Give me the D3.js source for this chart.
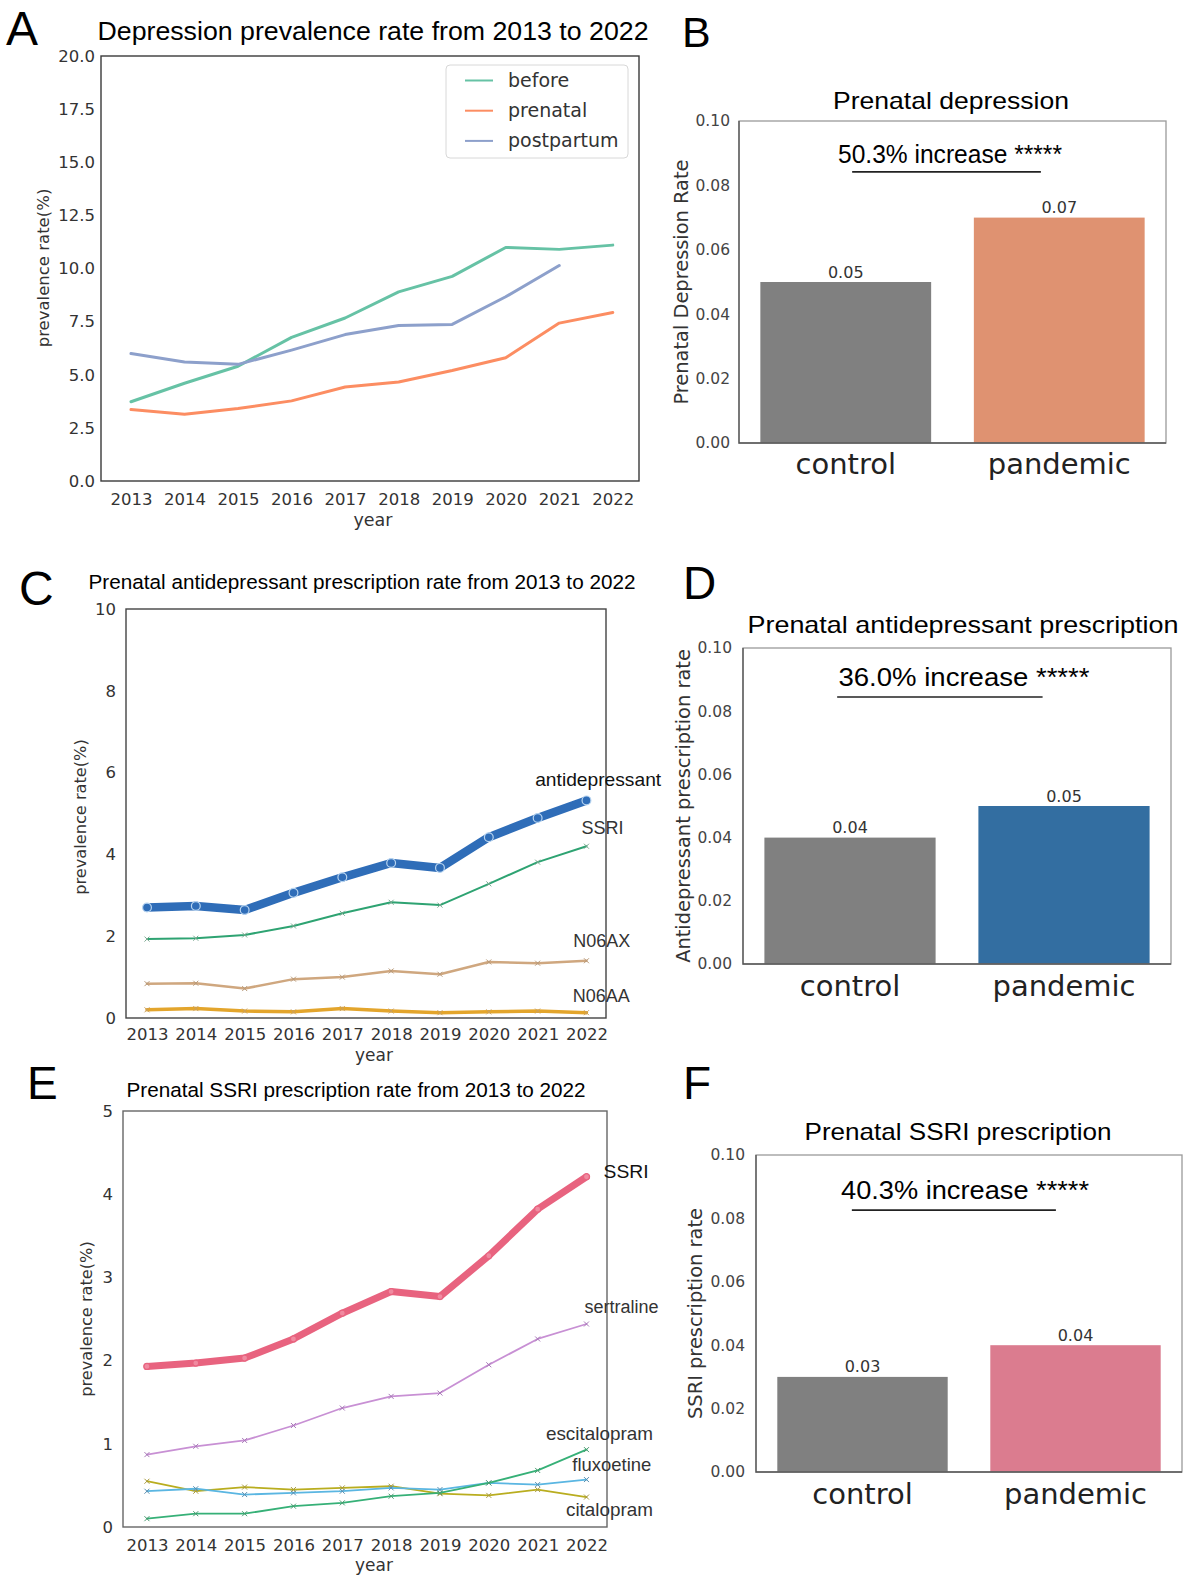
<!DOCTYPE html>
<html>
<head>
<meta charset="utf-8">
<script src="https://cdn.jsdelivr.net/npm/d3@7/dist/d3.min.js"></script>
<style>
  html, body { margin: 0; padding: 0; background: #fff; }
  svg { display: block; }
</style>
</head>
<body>
<svg id="fig" width="1191" height="1577"></svg>
<script>
// ---------- data ----------
const years = [2013, 2014, 2015, 2016, 2017, 2018, 2019, 2020, 2021, 2022];

// Panel A: depression prevalence (%)
const depBefore     = [3.73, 4.60, 5.40, 6.76, 7.67, 8.90, 9.63, 10.99, 10.90, 11.10];
const depPrenatal   = [3.36, 3.14, 3.41, 3.77, 4.42, 4.66, 5.20, 5.80, 7.43, 7.93];
const depPostpartum = [6.00, 5.60, 5.49, 6.16, 6.89, 7.32, 7.37, 8.67, 10.14];
const depTicks = [0, 2.5, 5, 7.5, 10, 12.5, 15, 17.5, 20];

// Panel C: prenatal antidepressant prescription (%)
const adAntidepressant = [2.70, 2.74, 2.64, 3.06, 3.44, 3.79, 3.67, 4.42, 4.89, 5.32];
const adSSRI           = [1.93, 1.95, 2.03, 2.25, 2.56, 2.83, 2.76, 3.28, 3.81, 4.20];
const adN06AX          = [0.84, 0.85, 0.72, 0.95, 1.00, 1.15, 1.07, 1.37, 1.34, 1.40];
const adN06AA          = [0.20, 0.23, 0.17, 0.15, 0.23, 0.17, 0.13, 0.15, 0.17, 0.13];
const adTicks = [0, 2, 4, 6, 8, 10];

// Panel E: prenatal SSRI prescription (%)
const ssriTotal        = [1.93, 1.97, 2.03, 2.26, 2.57, 2.83, 2.77, 3.26, 3.82, 4.21];
const ssriSertraline   = [0.87, 0.97, 1.04, 1.22, 1.43, 1.57, 1.61, 1.95, 2.26, 2.44];
const ssriEscitalopram = [0.10, 0.16, 0.16, 0.25, 0.29, 0.37, 0.41, 0.53, 0.68, 0.93];
const ssriFluoxetine   = [0.43, 0.46, 0.39, 0.41, 0.43, 0.47, 0.45, 0.53, 0.51, 0.57];
const ssriCitalopram   = [0.55, 0.43, 0.48, 0.45, 0.47, 0.49, 0.40, 0.38, 0.45, 0.36];
const ssriTicks = [0, 1, 2, 3, 4, 5];

// Panels B, D, F: control vs pandemic rates
const groups = ["control", "pandemic"];
const rateDepression = [0.05, 0.07];
const rateAntidepressant = [0.04, 0.05];
const rateSSRI = [0.03, 0.04];
const rateTicks = [0, 0.02, 0.04, 0.06, 0.08, 0.10];
const increaseDepression = "50.3% increase *****";
const increaseAntidepressant = "36.0% increase *****";
const increaseSSRI = "40.3% increase *****";

// ---------- helpers ----------
const svg = d3.select("#fig");
const SANS = "'Liberation Sans', Arial, Helvetica, sans-serif";
const DEJA = "'DejaVu Sans', sans-serif";

function fitWidth(sel, width) {
  sel.attr("textLength", width).attr("lengthAdjust", "spacingAndGlyphs");
  return sel;
}
function text(g, str, x, y, size, opts = {}) {
  const t = g.append("text")
    .attr("x", x).attr("y", y)
    .attr("font-family", opts.family || SANS)
    .attr("font-size", size)
    .attr("fill", opts.fill || "#000")
    .attr("text-anchor", opts.anchor || "start")
    .text(str);
  if (opts.width) fitWidth(t, opts.width);
  return t;
}
function rotLabel(g, str, x, y, size, fill) {
  return g.append("text")
    .attr("transform", `translate(${x},${y}) rotate(-90)`)
    .attr("font-family", DEJA).attr("font-size", size)
    .attr("fill", fill || "#333").attr("text-anchor", "middle")
    .text(str);
}
function xMark(g, cx, cy, s, color, w) {
  g.append("path")
    .attr("d", `M${cx - s},${cy - s}L${cx + s},${cy + s}M${cx - s},${cy + s}L${cx + s},${cy - s}`)
    .attr("stroke", color).attr("stroke-width", w || 1).attr("fill", "none");
}

// ---------- line panels ----------
function linePanel(cfg) {
  const f = cfg.frame;
  const g = svg.append("g");
  const x = d3.scaleLinear().domain(cfg.xDomain).range([f.l, f.r]);
  const y = d3.scaleLinear().domain(cfg.yDomain).range([f.b, f.t]);

  g.append("rect").attr("x", f.l).attr("y", f.t).attr("width", f.r - f.l).attr("height", f.b - f.t)
    .attr("fill", "none").attr("stroke", cfg.frameColor || "#444").attr("stroke-width", 1.4);

  const ya = g.append("g").attr("transform", `translate(${f.l},0)`)
    .call(d3.axisLeft(y).tickValues(cfg.yTicks).tickSize(0).tickPadding(cfg.yPad).tickFormat(cfg.yFmt));
  const xa = g.append("g").attr("transform", `translate(0,${f.b})`)
    .call(d3.axisBottom(x).tickValues(years).tickSize(0).tickPadding(cfg.xPad).tickFormat(d3.format("d")));
  [ya, xa].forEach(a => {
    a.select(".domain").remove();
    a.selectAll("text").attr("font-family", DEJA).attr("font-size", cfg.tickSize).attr("fill", "#333");
  });

  const line = d3.line().x((d, i) => x(years[i])).y(d => y(d));
  cfg.series.forEach(s => {
    g.append("path").datum(s.values)
      .attr("d", line).attr("fill", "none")
      .attr("stroke", s.color).attr("stroke-width", s.width)
      .attr("stroke-linejoin", "round").attr("stroke-linecap", "round");
    if (s.marker === "o") {
      s.values.forEach((v, i) => g.append("circle").attr("cx", x(years[i])).attr("cy", y(v))
        .attr("r", s.mr).attr("fill", s.mfill || s.color).attr("stroke", s.mstroke).attr("stroke-width", 1.2));
    } else if (s.marker === "x") {
      s.values.forEach((v, i) => xMark(g, x(years[i]), y(v), s.mr, s.mstroke || s.color, 1));
    }
  });

  (cfg.labels || []).forEach(L => {
    text(g, L.text, x(L.year), y(L.value), L.size, { fill: L.fill || "#222", width: L.width });
  });
  return { g, x, y };
}

// ---------- bar panels ----------
function barPanel(cfg) {
  const f = cfg.frame;
  const g = svg.append("g");
  const x = d3.scaleBand().domain(groups).range([f.l, f.r]).paddingInner(0.2).paddingOuter(0.1);
  const y = d3.scaleLinear().domain([0, 0.1]).range([f.b, f.t]);

  g.selectAll("rect.bar").data(cfg.values).enter().append("rect")
    .attr("class", "bar")
    .attr("x", (d, i) => x(groups[i])).attr("width", x.bandwidth())
    .attr("y", d => y(d)).attr("height", d => f.b - y(d))
    .attr("fill", (d, i) => cfg.colors[i]);

  g.append("rect").attr("x", f.l).attr("y", f.t).attr("width", f.r - f.l).attr("height", f.b - f.t)
    .attr("fill", "none").attr("stroke", "#9a9a9a").attr("stroke-width", 1.3);
  g.append("path").attr("d", `M${f.l},${f.t}V${f.b}H${f.r}`).attr("fill", "none")
    .attr("stroke", "#555").attr("stroke-width", 1.3);

  const ya = g.append("g").attr("transform", `translate(${f.l},0)`)
    .call(d3.axisLeft(y).tickValues(rateTicks).tickSize(0).tickPadding(cfg.yPad).tickFormat(d3.format(".2f")));
  ya.select(".domain").remove();
  ya.selectAll("text").attr("font-family", DEJA).attr("font-size", 15.5).attr("fill", "#444");

  const xa = g.append("g").attr("transform", `translate(0,${f.b})`)
    .call(d3.axisBottom(x).tickSize(0).tickPadding(cfg.xPad));
  xa.select(".domain").remove();
  xa.selectAll("text").attr("font-family", DEJA).attr("font-size", 29).attr("fill", "#222");

  cfg.values.forEach((v, i) => {
    text(g, d3.format(".2f")(v), x(groups[i]) + x.bandwidth() / 2, y(v) - 4.5, 16,
      { family: DEJA, anchor: "middle", fill: "#333" });
  });

  text(g, cfg.annotation, cfg.annX, y(cfg.annAt), 25, { anchor: "middle", width: cfg.annWidth });
  g.append("line")
    .attr("x1", f.l + (f.r - f.l) * cfg.lineSpan[0]).attr("x2", f.l + (f.r - f.l) * cfg.lineSpan[1])
    .attr("y1", y(cfg.lineAt)).attr("y2", y(cfg.lineAt))
    .attr("stroke", "#222").attr("stroke-width", 1.6);

  rotLabel(g, cfg.yLabel, cfg.yLabelX, (f.t + f.b) / 2, 19.4, "#333");
  text(g, cfg.title, cfg.titleX, cfg.titleY, 24, { anchor: "middle", width: cfg.titleWidth });
  return g;
}

// ---------- Panel A ----------
linePanel({
  frame: { l: 101, t: 56, r: 639, b: 481 },
  xDomain: [2012.44, 2022.49], yDomain: [0, 20],
  yTicks: depTicks, yFmt: d3.format(".1f"),
  yPad: 6, xPad: 12, tickSize: 16.5, frameColor: "#3a3a3a",
  series: [
    { values: depBefore, color: "#66c2a5", width: 3 },
    { values: depPrenatal, color: "#fc8d62", width: 3 },
    { values: depPostpartum, color: "#8da0cb", width: 3 }
  ]
});
text(svg, "Depression prevalence rate from 2013 to 2022", 373, 40, 26, { anchor: "middle", width: 551 });
text(svg, "year", 373, 526, 17.5, { family: DEJA, anchor: "middle", fill: "#333" });
rotLabel(svg, "prevalence rate(%)", 49, 268, 16.5, "#333");
const legend = svg.append("g");
legend.append("rect").attr("x", 446).attr("y", 65).attr("width", 182).attr("height", 93).attr("rx", 4)
  .attr("fill", "#fff").attr("stroke", "#d8d8d8");
[["before", "#66c2a5"], ["prenatal", "#fc8d62"], ["postpartum", "#8da0cb"]].forEach((e, i) => {
  const ly = 80.5 + i * 30.2;
  legend.append("line").attr("x1", 465).attr("x2", 493).attr("y1", ly).attr("y2", ly)
    .attr("stroke", e[1]).attr("stroke-width", 2);
  text(legend, e[0], 508, ly + 6.5, 19, { family: DEJA, fill: "#333" });
});

// ---------- Panel B ----------
barPanel({
  frame: { l: 739, t: 121, r: 1166, b: 443 },
  values: rateDepression, colors: ["#808080", "#df9271"],
  annotation: increaseDepression, annX: 950, annWidth: 224, annAt: 0.087,
  lineSpan: [0.265, 0.707], lineAt: 0.0842,
  yPad: 9, xPad: 10,
  yLabel: "Prenatal Depression Rate", yLabelX: 688,
  title: "Prenatal depression", titleX: 951, titleY: 109, titleWidth: 236
});

// ---------- Panel C ----------
linePanel({
  frame: { l: 126, t: 609, r: 606, b: 1018 },
  xDomain: [2012.57, 2022.4], yDomain: [0, 10],
  yTicks: adTicks, yFmt: d3.format("d"),
  yPad: 10, xPad: 10, tickSize: 16.5, frameColor: "#444",
  series: [
    { values: adN06AA, color: "#e3a52c", width: 3.5, marker: "x", mr: 2.5, mstroke: "#c9a060" },
    { values: adN06AX, color: "#cfa77f", width: 2.5, marker: "x", mr: 2.5, mstroke: "#b89a7a" },
    { values: adSSRI, color: "#2ea372", width: 2, marker: "x", mr: 2.5, mstroke: "#7aa990" },
    { values: adAntidepressant, color: "#2f6db8", width: 8.5, marker: "o", mr: 4.4, mfill: "#2f6db8", mstroke: "#b7d4f0" }
  ],
  labels: [
    { text: "antidepressant", year: 2020.95, value: 5.67, size: 19, width: 126, fill: "#111" },
    { text: "SSRI", year: 2021.9, value: 4.50, size: 18, width: 42, fill: "#333" },
    { text: "N06AX", year: 2021.73, value: 1.74, size: 18, width: 57, fill: "#333" },
    { text: "N06AA", year: 2021.72, value: 0.39, size: 18, width: 57, fill: "#333" }
  ]
});
text(svg, "Prenatal antidepressant prescription rate from 2013 to 2022", 362, 589, 20.5, { anchor: "middle", width: 547 });
text(svg, "year", 374, 1061, 17, { family: DEJA, anchor: "middle", fill: "#333" });
rotLabel(svg, "prevalence rate(%)", 86, 817, 16.2, "#333");

// ---------- Panel D ----------
barPanel({
  frame: { l: 743, t: 648, r: 1171, b: 964 },
  values: rateAntidepressant, colors: ["#808080", "#336ea1"],
  annotation: increaseAntidepressant, annX: 964, annWidth: 251, annAt: 0.088,
  lineSpan: [0.22, 0.70], lineAt: 0.0845,
  yPad: 11, xPad: 11,
  yLabel: "Antidepressant prescription rate", yLabelX: 690,
  title: "Prenatal antidepressant prescription", titleX: 963, titleY: 633, titleWidth: 431
});

// ---------- Panel E ----------
linePanel({
  frame: { l: 123, t: 1111, r: 607, b: 1527 },
  xDomain: [2012.51, 2022.42], yDomain: [0, 5],
  yTicks: ssriTicks, yFmt: d3.format("d"),
  yPad: 10, xPad: 12, tickSize: 16.5, frameColor: "#666",
  series: [
    { values: ssriCitalopram, color: "#b9ad1f", width: 1.8, marker: "x", mr: 2.5, mstroke: "#a89a40" },
    { values: ssriFluoxetine, color: "#5ab6e2", width: 1.8, marker: "x", mr: 2.5, mstroke: "#5a8fb0" },
    { values: ssriEscitalopram, color: "#36b077", width: 1.8, marker: "x", mr: 2.5, mstroke: "#4a9a70" },
    { values: ssriSertraline, color: "#c890d4", width: 1.8, marker: "x", mr: 2.5, mstroke: "#a87ab8" },
    { values: ssriTotal, color: "#e8637f", width: 7, marker: "o", mr: 3, mfill: "#f08aa0", mstroke: "#e8637f" }
  ],
  labels: [
    { text: "SSRI", year: 2022.35, value: 4.19, size: 19, width: 45, fill: "#111" },
    { text: "sertraline", year: 2021.96, value: 2.57, size: 18, width: 74, fill: "#333" },
    { text: "escitalopram", year: 2021.17, value: 1.05, size: 18.5, width: 107, fill: "#333" },
    { text: "fluxoetine", year: 2021.71, value: 0.67, size: 18.5, width: 79, fill: "#333" },
    { text: "citalopram", year: 2021.58, value: 0.13, size: 18.5, width: 87, fill: "#333" }
  ]
});
text(svg, "Prenatal SSRI prescription rate from 2013 to 2022", 356, 1097, 20.5, { anchor: "middle", width: 459 });
text(svg, "year", 374, 1571, 17, { family: DEJA, anchor: "middle", fill: "#333" });
rotLabel(svg, "prevalence rate(%)", 92, 1319, 16.2, "#333");

// ---------- Panel F ----------
barPanel({
  frame: { l: 756, t: 1155, r: 1182, b: 1472 },
  values: rateSSRI, colors: ["#808080", "#db7c8f"],
  annotation: increaseSSRI, annX: 965, annWidth: 248, annAt: 0.0861,
  lineSpan: [0.225, 0.704], lineAt: 0.0826,
  yPad: 11, xPad: 11,
  yLabel: "SSRI prescription rate", yLabelX: 702,
  title: "Prenatal SSRI prescription", titleX: 958, titleY: 1140, titleWidth: 307
});

// ---------- panel letters ----------
[["A", 6, 45, 48], ["B", 682, 47, 43], ["C", 19, 605, 48],
 ["D", 683, 599, 46], ["E", 27, 1099, 46], ["F", 683, 1099, 46]].forEach(p => {
  text(svg, p[0], p[1], p[2], p[3], { fill: "#000" });
});
</script>
</body>
</html>
